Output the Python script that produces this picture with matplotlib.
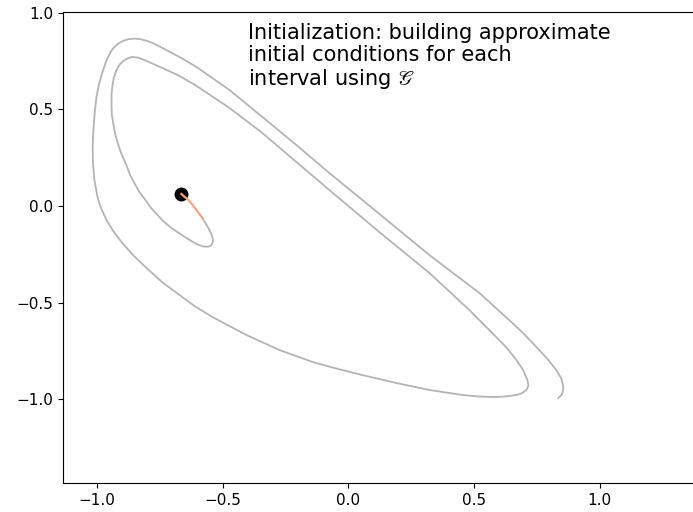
import matplotlib
matplotlib.use("Agg")
import matplotlib.pyplot as plt

# trajectory in phase space (x, y), spiralling outward from the start point
traj_x = [-0.581, -0.568, -0.555, -0.545, -0.539, -0.539, -0.546, -0.558, -0.575, -0.600,
          -0.644, -0.704, -0.735, -0.759, -0.785, -0.807, -0.830, -0.847, -0.868, -0.883,
          -0.901, -0.915, -0.927, -0.934, -0.941, -0.942, -0.942, -0.938, -0.932, -0.922,
          -0.910, -0.895, -0.878, -0.859, -0.835, -0.811, -0.740, -0.672, -0.604, -0.473,
          -0.342, -0.207, -0.076, 0.123, 0.322, 0.481, 0.588, 0.630, 0.668, 0.695,
          0.712, 0.716, 0.708, 0.690, 0.668, 0.630, 0.588, 0.520, 0.453, 0.322,
          0.191, 0.056, -0.045, -0.143, -0.274, -0.406, -0.541, -0.610, -0.672, -0.740,
          -0.803, -0.855, -0.899, -0.935, -0.962, -0.984, -0.998, -1.010, -1.016, -1.017,
          -1.014, -1.009, -1.002, -0.992, -0.978, -0.963, -0.946, -0.930, -0.911, -0.891,
          -0.871, -0.851, -0.831, -0.805, -0.779, -0.730, -0.672, -0.604, -0.473, -0.342,
          -0.207, -0.076, 0.123, 0.322, 0.521, 0.652, 0.700, 0.748, 0.790, 0.827,
          0.847, 0.855, 0.852, 0.845, 0.835]
traj_y = [-0.062, -0.090, -0.118, -0.145, -0.170, -0.190, -0.204, -0.211, -0.210, -0.200,
          -0.166, -0.114, -0.080, -0.047, -0.010, 0.031, 0.070, 0.109, 0.160, 0.212,
          0.265, 0.316, 0.370, 0.420, 0.475, 0.523, 0.580, 0.627, 0.670, 0.705,
          0.732, 0.751, 0.765, 0.772, 0.768, 0.756, 0.715, 0.674, 0.622, 0.508,
          0.378, 0.228, 0.083, -0.135, -0.347, -0.539, -0.679, -0.735, -0.798, -0.850,
          -0.902, -0.930, -0.953, -0.970, -0.979, -0.986, -0.990, -0.987, -0.979, -0.953,
          -0.917, -0.876, -0.843, -0.808, -0.746, -0.668, -0.575, -0.520, -0.461, -0.395,
          -0.321, -0.256, -0.192, -0.130, -0.073, -0.010, 0.047, 0.135, 0.223, 0.310,
          0.394, 0.480, 0.565, 0.630, 0.694, 0.750, 0.798, 0.825, 0.845, 0.858,
          0.865, 0.867, 0.865, 0.857, 0.845, 0.812, 0.772, 0.720, 0.601, 0.461,
          0.316, 0.171, -0.041, -0.254, -0.451, -0.606, -0.665, -0.731, -0.790, -0.850,
          -0.895, -0.938, -0.965, -0.982, -0.995]

# first coarse-propagator step from the initial condition
init_x = [-0.664, -0.632, -0.604, -0.581]
init_y = [0.062, 0.026, -0.021, -0.062]

x0, y0 = -0.664, 0.062

fig = plt.figure(figsize=(6.93, 5.12), dpi=100)
ax = fig.add_axes([0.0909, 0.0566, 0.938, 0.920])

ax.plot(traj_x, traj_y, color="#b4b4b4", lw=1.3)
ax.plot([x0], [y0], "o", color="black", markersize=9)
ax.plot(init_x, init_y, color="#f4a582", lw=1.6)

ax.text(-0.40, 0.95,
        "Initialization: building approximate\ninitial conditions for each\ninterval using $\\mathscr{G}$",
        fontsize=15, va="top", ha="left", linespacing=1.12)

ax.set_xlim(-1.135, 1.45)
ax.set_ylim(-1.435, 1.005)
ax.set_xticks([-1.0, -0.5, 0.0, 0.5, 1.0])
ax.set_yticks([-1.0, -0.5, 0.0, 0.5, 1.0])
ax.tick_params(labelsize=11)
ax.spines["right"].set_visible(False)

fig.savefig("out.png", dpi=100)
